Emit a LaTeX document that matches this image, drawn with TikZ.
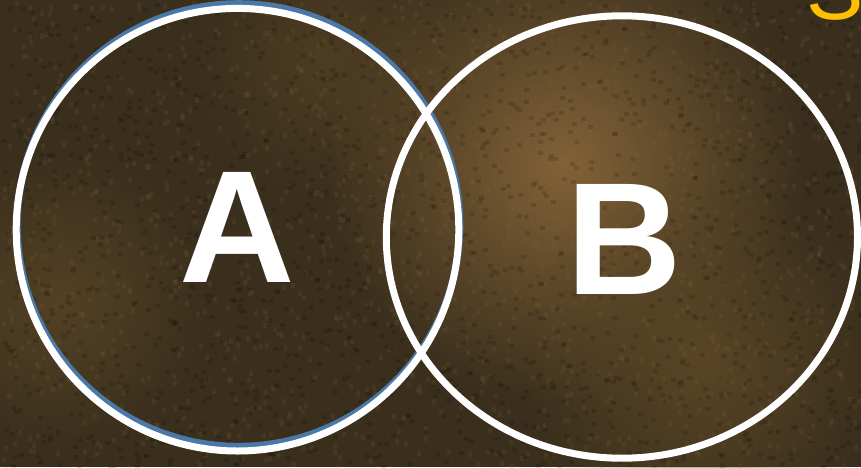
\documentclass[tikz,border=0pt]{standalone}
\usepackage{fontspec}
\setmainfont{Liberation Sans}
\usepackage{tikz}
\usetikzlibrary{positioning,calc,backgrounds,fadings}
\usepackage{xcolor}
\definecolor{bgdark}{HTML}{3A2F1D}
\definecolor{bgmid}{HTML}{5A4626}
\definecolor{bglight}{HTML}{8A683A}
\definecolor{ringblue}{HTML}{4A78A8}
\definecolor{accentgold}{HTML}{FFC000}
\tikzfading[name=softglow,inner color=transparent!0,outer color=transparent!100]

\tikzset{
  ring/.style={draw=white,line width=7pt},
  letter/.style={text=white,inner sep=0pt,font=\fontsize{160}{160}\selectfont\bfseries}
}

\begin{document}
\begin{tikzpicture}[x=1pt,y=-1pt]
        \useasboundingbox (0,0) rectangle (861,467);
        \begin{scope}
        \clip (0,0) rectangle (861,467);
        % Fondo
        \fill[bgdark] (0,0) rectangle (861,467);
        \fill[bglight,path fading=softglow,opacity=0.9] (565,165) circle (240);
        \fill[bgmid,path fading=softglow] (700,360) circle (180);
        \fill[bgmid,path fading=softglow,opacity=0.8] (60,300) circle (150);
        \fill[bgmid,path fading=softglow,opacity=0.6] (330,60) circle (140);
        \pgfmathsetseed{12}
        \foreach \i in {1,...,1600}{
          \pgfmathsetmacro\px{rnd*861}\pgfmathsetmacro\py{rnd*467}
          \fill[black,opacity=0.13](\px,\py)rectangle +(5,4);}
        \foreach \i in {1,...,1300}{
          \pgfmathsetmacro\px{rnd*861}\pgfmathsetmacro\py{rnd*467}
          \fill[bglight,opacity=0.15](\px,\py)rectangle +(4,5);}
        % S recortada
        \node[text=accentgold,inner sep=0pt,anchor=base,font=\fontsize{86}{86}\selectfont] (sletter) at (835,19) {S};
        \end{scope}
        % Conjuntos
        \draw[draw=ringblue,line width=7pt] (238.5,225) circle (221.3);
        \draw[ring] (237.5,229.7) circle (221.3);
        \draw[ring] (621.9,237) ellipse [x radius=235.6,y radius=221.2];
        \node[letter] (setA) at (237.5,227.5) {A};
        \node[letter] (setB) at (624.5,239.5) {B};
      \end{tikzpicture}
\end{document}
